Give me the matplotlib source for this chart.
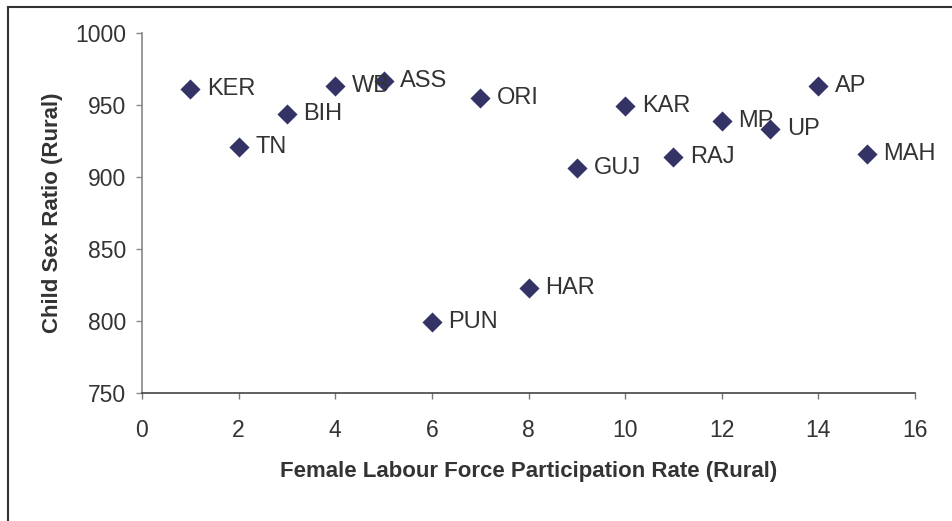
import matplotlib
matplotlib.use("Agg")
import matplotlib.pyplot as plt
from matplotlib.lines import Line2D

states = ["KER", "TN", "BIH", "WB", "ASS", "PUN", "ORI", "HAR", "GUJ", "KAR", "RAJ", "MP", "UP", "AP", "MAH"]
flfpr = [1, 2, 3, 4, 5, 6, 7, 8, 9, 10, 11, 12, 13, 14, 15]
csr = [961, 921, 944, 963, 967, 799, 955, 823, 906, 949, 914, 939, 933, 963, 916]

plt.rcParams['font.family'] = ['Liberation Sans', 'DejaVu Sans']
text_col = "#333333"

fig = plt.figure(figsize=(9.52, 5.21), dpi=100)
ax = fig.add_axes([142/952, 1-393/521, (915-142)/952, (393-33)/521])

ax.scatter(flfpr, csr, marker="D", s=105, color="#333366", zorder=3, linewidths=0)
for name, x, y in zip(states, flfpr, csr):
    ax.annotate(name, (x, y), xytext=(12, 0), textcoords="offset points",
                va="center", ha="left", fontsize=17, color=text_col)

ax.set_xlim(0, 16)
ax.set_ylim(750, 1000)
ax.set_xticks(range(0, 17, 2))
ax.set_yticks(range(750, 1001, 50))
ax.tick_params(axis="both", labelsize=16.5, labelcolor=text_col, length=4.5, width=1, direction="out")
ax.tick_params(axis="y", colors="#888888", labelcolor=text_col, pad=7)
ax.tick_params(axis="x", colors="#777777", labelcolor=text_col, pad=14)
for s in ["top", "right"]:
    ax.spines[s].set_visible(False)
ax.spines["left"].set_color("#888888")
ax.spines["bottom"].set_color("#444444")
ax.spines["left"].set_linewidth(1.2)
ax.spines["bottom"].set_linewidth(1.2)

ax.set_xlabel("Female Labour Force Participation Rate (Rural)", fontsize=16, fontweight="bold", color=text_col, labelpad=14)
ax.set_ylabel("Child Sex Ratio (Rural)", fontsize=16, fontweight="bold", color=text_col, labelpad=9)

# outer chart border (left and top visible)
fig.add_artist(Line2D([8/952, 8/952], [0, 1-7/521], transform=fig.transFigure, color="#333333", lw=1.5))
fig.add_artist(Line2D([8/952, 1], [1-7/521, 1-7/521], transform=fig.transFigure, color="#333333", lw=1.5))

fig.savefig("out.png", dpi=100)
